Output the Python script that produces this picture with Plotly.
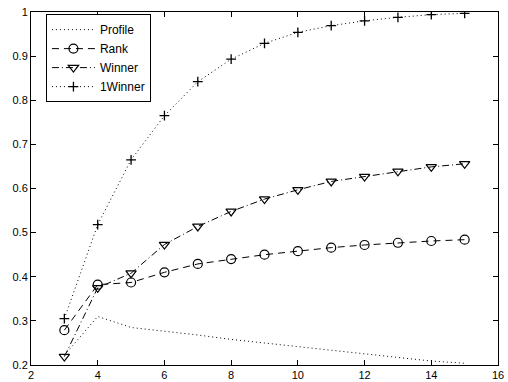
import plotly.graph_objects as go

x_vals = [3, 4, 5, 6, 7, 8, 9, 10, 11, 12, 13, 14, 15]
profile = [0.222, 0.310, 0.285, 0.277, 0.268, 0.258, 0.250, 0.241, 0.233, 0.225, 0.217, 0.209, 0.204]
rank = [0.279, 0.382, 0.387, 0.410, 0.429, 0.440, 0.450, 0.458, 0.466, 0.472, 0.477, 0.481, 0.484]
winner = [0.219, 0.375, 0.408, 0.473, 0.514, 0.548, 0.576, 0.597, 0.616, 0.627, 0.639, 0.649, 0.656]
one_winner = [0.305, 0.518, 0.665, 0.765, 0.842, 0.893, 0.929, 0.954, 0.969, 0.980, 0.988, 0.994, 0.997]

x_ticks = [2, 4, 6, 8, 10, 12, 14, 16]
y_ticks = [0.2, 0.3, 0.4, 0.5, 0.6, 0.7, 0.8, 0.9, 1.0]
y_tick_text = ["0.2", "0.3", "0.4", "0.5", "0.6", "0.7", "0.8", "0.9", "1"]

fig = go.Figure()
fig.add_trace(go.Scatter(x=x_vals, y=profile, name="Profile", mode="lines",
                         line=dict(color="black", width=1, dash="1px,3px")))
fig.add_trace(go.Scatter(x=x_vals, y=rank, name="Rank", mode="lines+markers",
                         line=dict(color="black", width=1, dash="7px,5px"),
                         marker=dict(symbol="circle-open", size=9, color="black",
                                     line=dict(width=1.2, color="black"))))
fig.add_trace(go.Scatter(x=x_vals, y=winner, name="Winner", mode="lines+markers",
                         line=dict(color="black", width=1, dash="7px,3px,1px,3px"),
                         marker=dict(symbol="triangle-down-open", size=9, color="black",
                                     line=dict(width=1.2, color="black"))))
fig.add_trace(go.Scatter(x=x_vals, y=one_winner, name="1Winner", mode="lines+markers",
                         line=dict(color="black", width=1, dash="1px,3px"),
                         marker=dict(symbol="cross-thin-open", size=7, color="black",
                                     line=dict(width=1.3, color="black"))))

axis_common = dict(showline=True, linecolor="black", linewidth=1, mirror="ticks",
                   ticks="inside", ticklen=5, tickcolor="black", showgrid=False,
                   zeroline=False, automargin=False, ticklabeloverflow="allow",
                   tickfont=dict(family="Liberation Sans, Arial", size=11, color="black"))

fig.update_layout(
    width=508, height=382,
    margin=dict(l=31, r=10, t=12, b=17),
    paper_bgcolor="white", plot_bgcolor="white",
    font=dict(family="Liberation Sans, Arial", size=12, color="black"),
    xaxis=dict(range=[2, 16], tickvals=x_ticks, ticktext=[str(t) for t in x_ticks], **axis_common),
    yaxis=dict(range=[0.2, 1.0], tickvals=y_ticks, ticktext=y_tick_text, **axis_common),
    legend=dict(x=0.032, y=0.994, xanchor="left", yanchor="top",
                bgcolor="white", bordercolor="black", borderwidth=1,
                font=dict(family="Liberation Sans, Arial", size=12, color="black"),
                tracegroupgap=0, itemwidth=43),
    showlegend=True,
)

fig.write_html("out.html",
               config={"displayModeBar": False},
               post_script="document.body.style.margin='0';document.body.style.overflow='hidden';")
